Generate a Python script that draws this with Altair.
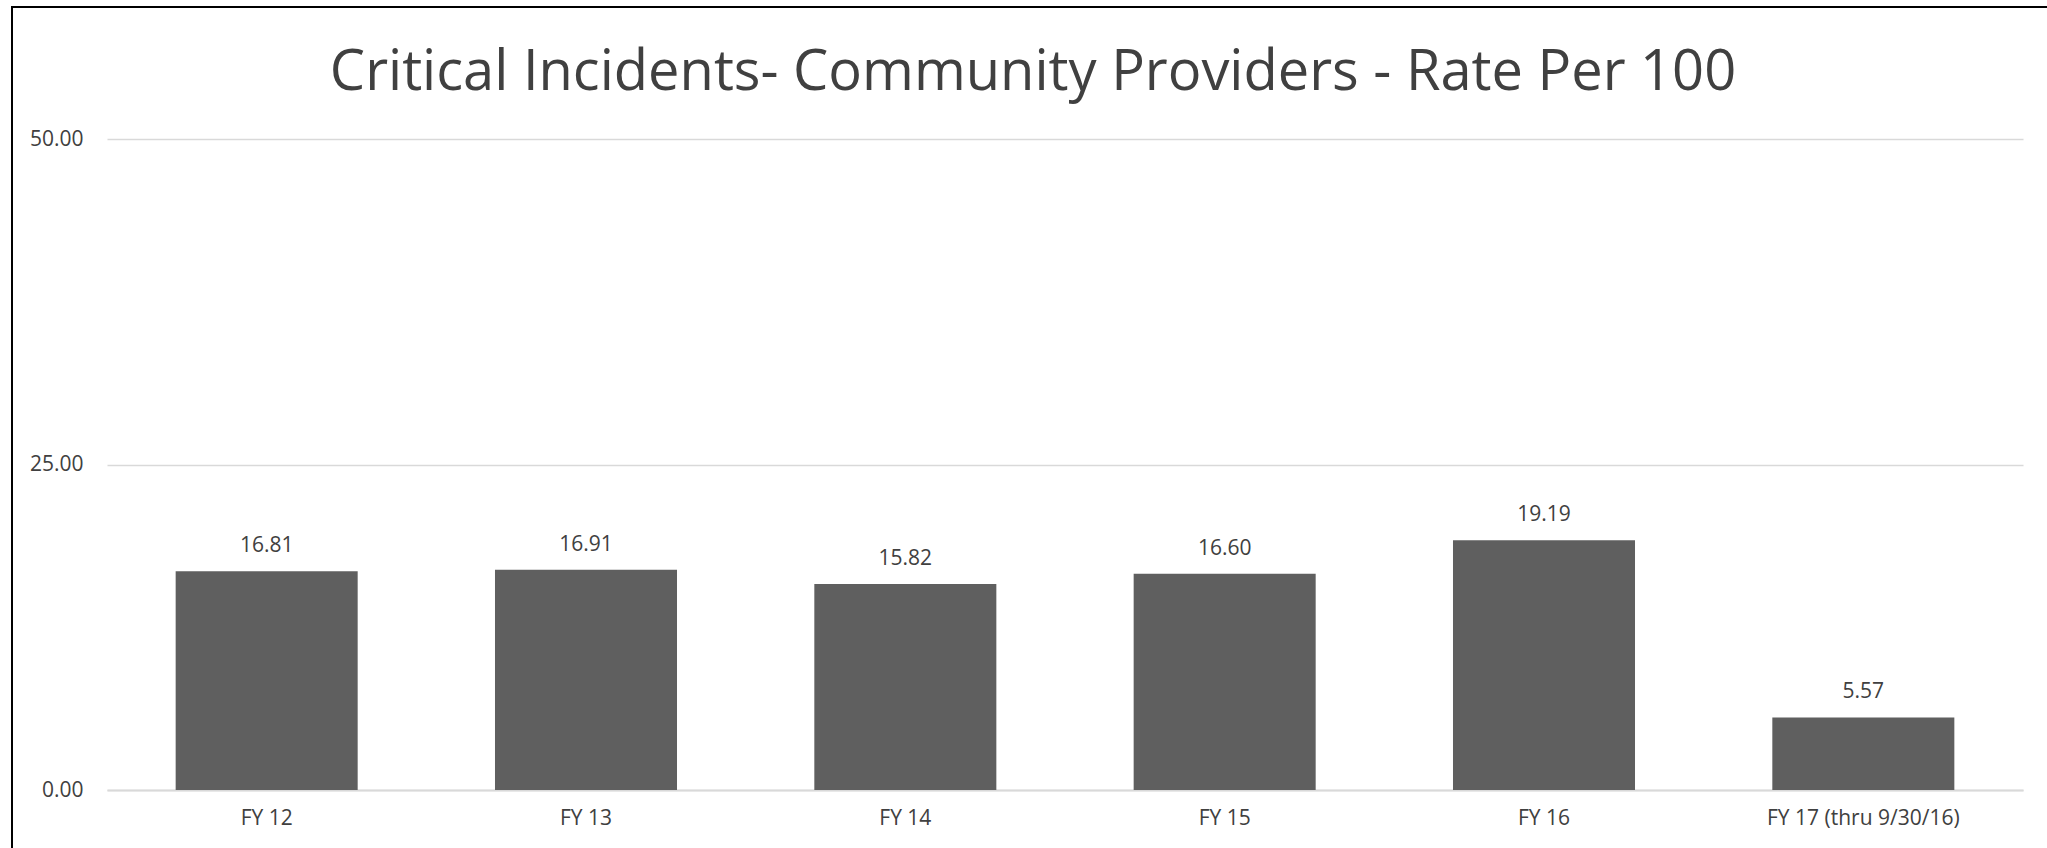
import altair as alt
import pandas as pd

categories = ["FY 12", "FY 13", "FY 14", "FY 15", "FY 16", "FY 17 (thru 9/30/16)"]
rates = [16.81, 16.91, 15.82, 16.60, 19.19, 5.57]
y_ticks = [0, 25, 50]
title_text = "Critical Incidents- Community Providers - Rate Per 100"

df = pd.DataFrame({"cat": categories, "rate": rates})

FONT = "Open Sans"
TXT = "#404040"

x = alt.X("cat:N", sort=categories, title=None,
          scale=alt.Scale(paddingInner=0.43, paddingOuter=0.215),
          axis=alt.Axis(labelAngle=0, labelFontSize=21, labelColor=TXT, labelFont=FONT,
                        labelLimit=0, ticks=False, domainColor="#d9d9d9", domainWidth=2,
                        labelPadding=17))
y = alt.Y("rate:Q", title=None,
          scale=alt.Scale(domain=[0, 50], nice=False),
          axis=alt.Axis(values=y_ticks, format=".2f", labelFontSize=21, labelColor=TXT,
                        labelFont=FONT, ticks=False, domain=False, gridColor="#d9d9d9",
                        gridWidth=1.5, labelPadding=24))

bars = alt.Chart(df).mark_bar(color="#5f5f5f").encode(x=x, y=y)
labels = alt.Chart(df).mark_text(fontSize=21, font=FONT, color=TXT, baseline="alphabetic", dy=-19).encode(
    x=alt.X("cat:N", sort=categories), y="rate:Q", text=alt.Text("rate:Q", format=".2f"))

one = pd.DataFrame({"t": [title_text]})
title = alt.Chart(one).mark_text(fontSize=56, font=FONT, color=TXT, align="center",
                                 baseline="alphabetic").encode(
    x=alt.value(926), y=alt.value(-49), text="t:N")

frame_top = alt.Chart(one).mark_rule(color="black", strokeWidth=2).encode(
    x=alt.value(-96), x2=alt.value(1916 + 24), y=alt.value(-132))
frame_left = alt.Chart(one).mark_rule(color="black", strokeWidth=2).encode(
    x=alt.value(-95), y=alt.value(-133), y2=alt.value(651 + 58))

chart = alt.layer(bars, labels, title, frame_top, frame_left).properties(
    width=1916, height=651,
    padding={"left": 107, "top": 139, "right": 24, "bottom": 58},
    autosize=alt.AutoSizeParams(type="none"),
    background="white",
).configure_view(stroke=None)

chart.save("out.html", embed_options={"renderer": "svg", "actions": False})
